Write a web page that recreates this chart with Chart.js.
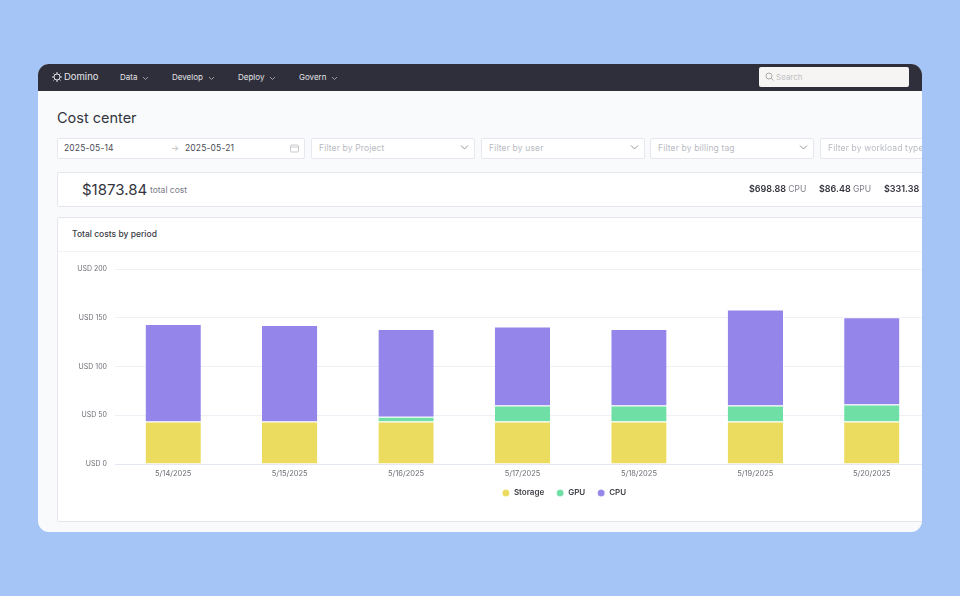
<!DOCTYPE html>
<html><head><meta charset="utf-8">
<script src="https://cdn.jsdelivr.net/npm/chart.js@4"></script>
<style>
html,body{margin:0;padding:0;width:960px;height:596px;overflow:hidden;background:#a5c5f7;font-family:Inter,"Noto Sans",sans-serif}
.a{position:absolute;white-space:nowrap}
#app{position:absolute;left:38px;top:64px;width:884px;height:468px;background:#f9fafc;border-radius:11px;overflow:hidden;filter:blur(.3px)}
#bar{position:absolute;left:0;top:0;width:884px;height:27px;background:#2e2f3a}
.nav{color:#e3e3e8;font-size:8px;top:8px}
.nav svg{margin-left:5px;vertical-align:-1px}
.box{position:absolute;top:74px;height:19px;background:#fff;border:1px solid #e6e8ee;border-radius:2px;font-size:8.5px;line-height:19px;color:#b8bac2;letter-spacing:.15px}
.box span{position:absolute;left:7px;white-space:nowrap}
.box svg{position:absolute;top:5px}
#sum{position:absolute;left:19px;top:108px;width:900px;height:33px;background:#fff;border:1px solid #e4e6ec;border-radius:2px}
#card{position:absolute;left:19px;top:153px;width:900px;height:303px;background:#fff;border:1px solid #e4e6ec;border-radius:2px;overflow:hidden}
#chart{position:absolute;left:0;top:34px}
.v{font-size:9px;color:#33343c;font-weight:600;top:10px}
.v span{font-weight:400;color:#7a7b88;font-size:8.5px}
</style></head><body>
<div id="app">
 <div id="bar">
  <svg class="a" style="left:14px;top:8px" width="10" height="10" viewBox="0 0 10 10" fill="none" stroke="#e3e3e8" stroke-width="1"><circle cx="5" cy="5" r="3"/><path d="M5 0v2M5 8v2M0 5h2M8 5h2M1.500 1.500l1 1M7.500 7.500l1 1M8.500 1.500l-1 1M2.500 7.500l-1 1"/></svg>
  <div class="a" style="left:26px;top:7px;color:#e6e6ea;font-size:9.5px">Domino</div>
  <div class="a nav" style="left:82px">Data<svg width="7" height="5" viewBox="0 0 7 5" fill="none" stroke="#bbb" stroke-width=".8"><path d="M1 1l2.500 2.500L6 1"/></svg></div>
  <div class="a nav" style="left:134px">Develop<svg width="7" height="5" viewBox="0 0 7 5" fill="none" stroke="#bbb" stroke-width=".8"><path d="M1 1l2.500 2.500L6 1"/></svg></div>
  <div class="a nav" style="left:200px">Deploy<svg width="7" height="5" viewBox="0 0 7 5" fill="none" stroke="#bbb" stroke-width=".8"><path d="M1 1l2.500 2.500L6 1"/></svg></div>
  <div class="a nav" style="left:261px">Govern<svg width="7" height="5" viewBox="0 0 7 5" fill="none" stroke="#bbb" stroke-width=".8"><path d="M1 1l2.500 2.500L6 1"/></svg></div>
  <div class="a" style="left:721px;top:3px;width:150px;height:20px;background:#f6f5f3;border-radius:2px"></div>
  <svg class="a" style="left:727px;top:8px" width="9" height="9" viewBox="0 0 9 9" fill="none" stroke="#999" stroke-width=".8"><circle cx="4" cy="4" r="3"/><path d="M6.300 6.300L8.500 8.500"/></svg>
  <div class="a" style="left:738px;top:8px;color:#c2c2c6;font-size:8px">Search</div>
 </div>
 <div class="a" style="left:19px;top:45px;font-size:14.5px;color:#33343c">Cost center</div>

 <div class="box" style="left:19px;width:246px;color:#4a4b55"><span style="left:6px">2025-05-14</span><span style="left:113px;color:#bbb">→</span><span style="left:127px">2025-05-21</span>
  <svg style="left:232px" width="9" height="9" viewBox="0 0 9 9" fill="none" stroke="#c4c5cb" stroke-width=".9"><rect x=".5" y="1" width="8" height="7" rx="1"/><path d="M.5 3h8"/></svg></div>
 <div class="box" style="left:273px;width:162px"><span>Filter by Project</span><svg style="left:148px" width="9" height="7" viewBox="0 0 9 7" fill="none" stroke="#888" stroke-width=".9"><path d="M1 1.500l3.500 3.500L8 1.500"/></svg></div>
 <div class="box" style="left:443px;width:162px"><span>Filter by user</span><svg style="left:148px" width="9" height="7" viewBox="0 0 9 7" fill="none" stroke="#888" stroke-width=".9"><path d="M1 1.500l3.500 3.500L8 1.500"/></svg></div>
 <div class="box" style="left:612px;width:162px"><span>Filter by billing tag</span><svg style="left:148px" width="9" height="7" viewBox="0 0 9 7" fill="none" stroke="#888" stroke-width=".9"><path d="M1 1.500l3.500 3.500L8 1.500"/></svg></div>
 <div class="box" style="left:782px;width:162px"><span>Filter by workload type</span></div>

 <div id="sum">
  <div class="a" style="left:24px;top:7px;font-size:15px;color:#33343c">$1873.84</div>
  <div class="a" style="left:92px;top:12px;font-size:8.500px;color:#7a7b88">total cost</div>
  <div class="a v" style="left:691px">$698.88 <span>CPU</span></div>
  <div class="a v" style="left:761px">$86.48 <span>GPU</span></div>
  <div class="a v" style="left:826px">$331.38 <span>Storage</span></div>
 </div>
 <div id="card">
  <div class="a" style="left:14px;top:11px;font-size:8.500px;font-weight:500;color:#3a3b44">Total costs by period</div>
  <div class="a" style="left:0;top:33px;width:900px;height:1px;background:#f2f3f6"></div>
  <canvas id="chart" width="1010" height="265" style="width:1010px;height:265px"></canvas>
 </div>
</div>
<script>
const categories = ['5/14/2025','5/15/2025','5/16/2025','5/17/2025','5/18/2025','5/19/2025','5/20/2025'];
const storage = [43.5, 43.5, 43.5, 43.5, 43.5, 43.5, 43.5];
const gpu = [0, 0, 5, 16.5, 16.5, 16.5, 17.5];
const cpu = [100, 99, 90, 81, 78.5, 98.5, 89.5];
const yTicks = [0, 50, 100, 150, 200];
const colors = {storage:'#ebdc5f', gpu:'#6fdfa5', cpu:'#9385ea'};

function ds(label, data, color){
  return {label, data, backgroundColor:color, borderColor:'rgba(255,255,255,.8)', borderWidth:{top:1,left:0,right:0,bottom:0}, borderSkipped:false, stack:'s', categoryPercentage:1, barPercentage:.475};
}
const legendShift = {id:'legendShift',
  beforeDraw(c){ const l=c.legend; l.left+=70; l.right+=70; l.top-=6; l.bottom-=6; },
  afterDraw(c){ const l=c.legend; l.left-=70; l.right-=70; l.top+=6; l.bottom+=6; }};
Chart.defaults.font.family = 'Inter, "Noto Sans", sans-serif';
new Chart(document.getElementById('chart'), {
  type:'bar',
  plugins:[legendShift],
  data:{labels:categories, datasets:[ds('Storage',storage,colors.storage),ds('GPU',gpu,colors.gpu),ds('CPU',cpu,colors.cpu)]},
  options:{
    responsive:false, animation:false,
    layout:{padding:{top:17,right:138,bottom:4,left:0}},
    plugins:{
      tooltip:{enabled:false},
      legend:{position:'bottom',labels:{usePointStyle:true,pointStyle:'circle',boxHeight:5,padding:12,color:'#3f4048',font:{size:8,weight:'600'}}}
    },
    scales:{
      x:{stacked:true,grid:{display:false,drawTicks:false},border:{color:'#e4e8f4',width:1},
         ticks:{color:'#6d6e76',font:{size:7.5},padding:5,maxRotation:0}},
      y:{stacked:true,min:0,max:200,afterBuildTicks(a){a.ticks=yTicks.map(v=>({value:v}));},
         afterFit(a){a.width=57;},
         grid:{color:'#eef0f5',drawTicks:false},border:{display:false},
         ticks:{color:'#6d6e76',font:{size:7},padding:8,callback:v=>'USD '+v}}
    }
  }
});
</script>
</body></html>
